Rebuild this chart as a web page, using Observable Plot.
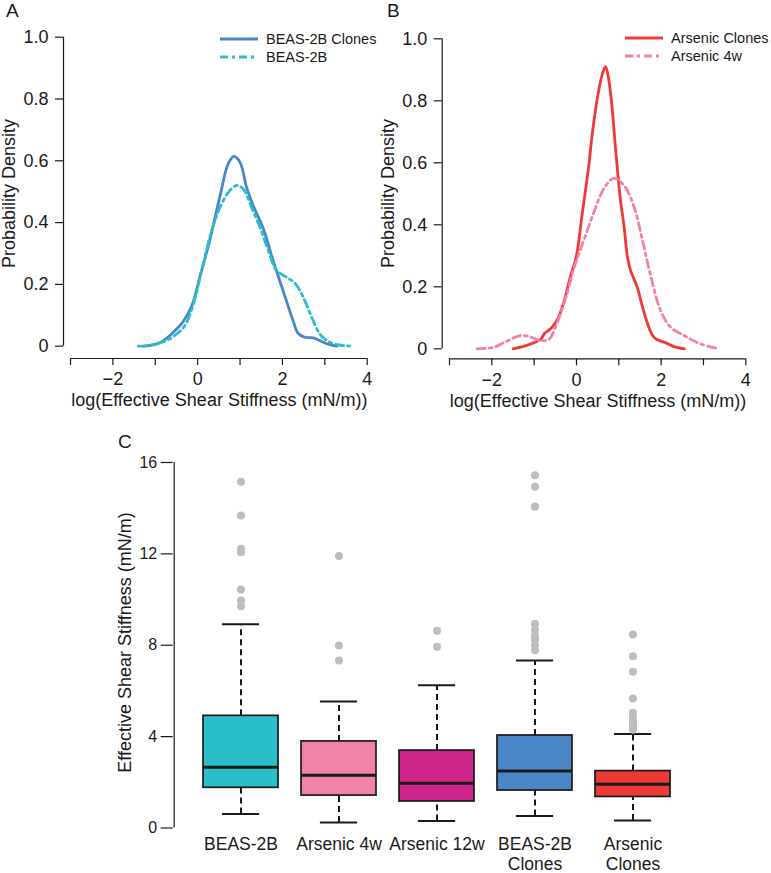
<!DOCTYPE html>
<html>
<head>
<meta charset="utf-8">
<script src="https://cdn.jsdelivr.net/npm/d3@7"></script>
<script src="https://cdn.jsdelivr.net/npm/@observablehq/plot@0.6"></script>
<style>
  html, body { margin: 0; padding: 0; background: #fff; }
  #wrap { position: relative; width: 771px; height: 873px; overflow: hidden; background: #fff; }
  .panel { position: absolute; }
  .panel svg { overflow: visible; }
  #overlay { position: absolute; left: 0; top: 0; pointer-events: none; }
</style>
</head>
<body>
<div id="wrap">
  <div id="panelA" class="panel" style="left:0px;top:0px;"></div>
  <div id="panelB" class="panel" style="left:380px;top:0px;"></div>
  <div id="panelC" class="panel" style="left:0px;top:420px;"></div>
</div>
<script>
// ---------------- data ----------------
// density panels (A, B): axis ticks
const xTicks = [-3, -2, -1, 0, 1, 2, 3, 4];
const xTickLabels = ["", "−2", "", "0", "", "2", "", "4"];
const yTicks = [0, 0.2, 0.4, 0.6, 0.8, 1.0];
const yTickLabels = ["0", "0.2", "0.4", "0.6", "0.8", "1.0"];
const xTitle = "log(Effective Shear Stiffness (mN/m))";
const yTitle = "Probability Density";

// Panel A: BEAS-2B Clones (solid)
const beasClonesX = [-1.28, -1.05, -0.89, -0.72, -0.575, -0.45, -0.34, -0.14, 0.054, 0.29, 0.526, 0.72, 0.856, 1.0, 1.155, 1.31, 1.55, 1.78, 2.02, 2.25, 2.37, 2.53, 2.73, 2.96, 3.12, 3.28];
const beasClonesY = [0, 0.004, 0.011, 0.027, 0.045, 0.062, 0.080, 0.130, 0.225, 0.345, 0.485, 0.59, 0.614, 0.595, 0.514, 0.455, 0.38, 0.277, 0.178, 0.083, 0.042, 0.029, 0.027, 0.013, 0.005, 0];
// Panel A: BEAS-2B (dash-dot)
const beasX = [-1.40, -1.15, -0.97, -0.75, -0.575, -0.30, -0.10, 0.094, 0.33, 0.566, 0.76, 0.92, 1.075, 1.27, 1.47, 1.665, 1.86, 2.10, 2.295, 2.49, 2.69, 2.88, 3.05, 3.20, 3.59];
const beasY = [0, 0.002, 0.008, 0.018, 0.031, 0.067, 0.137, 0.245, 0.374, 0.461, 0.504, 0.52, 0.509, 0.45, 0.385, 0.31, 0.245, 0.223, 0.204, 0.159, 0.094, 0.04, 0.018, 0.008, 0];
// Panel B: Arsenic Clones (solid)
const arsClonesX = [-1.50, -1.25, -1.0, -0.85, -0.75, -0.6, -0.45, -0.3, -0.15, 0.0, 0.12, 0.29, 0.37, 0.52, 0.62, 0.69, 0.76, 0.84, 0.92, 1.04, 1.12, 1.2, 1.277, 1.435, 1.55, 1.67, 1.8, 1.9, 2.1, 2.3, 2.55];
const arsClonesY = [0, 0.008, 0.02, 0.03, 0.05, 0.066, 0.095, 0.15, 0.23, 0.30, 0.42, 0.59, 0.69, 0.83, 0.89, 0.91, 0.87, 0.78, 0.65, 0.478, 0.40, 0.30, 0.253, 0.199, 0.14, 0.085, 0.042, 0.03, 0.02, 0.007, 0];
// Panel B: Arsenic 4w (dash-dot)
const ars4wX = [-2.35, -1.955, -1.64, -1.32, -1.09, -0.85, -0.655, -0.456, -0.22, -0.06, 0.17, 0.41, 0.645, 0.88, 1.12, 1.355, 1.55, 1.75, 1.985, 2.22, 2.54, 2.93, 3.365];
const ars4wY = [0, 0.005, 0.025, 0.043, 0.038, 0.027, 0.03, 0.084, 0.18, 0.26, 0.349, 0.44, 0.516, 0.55, 0.527, 0.46, 0.355, 0.237, 0.124, 0.07, 0.043, 0.016, 0];

// Panel C: box plots
const groups = ["BEAS-2B", "Arsenic 4w", "Arsenic 12w", "BEAS-2B Clones", "Arsenic Clones"];
const groupLabels = ["BEAS-2B", "Arsenic 4w", "Arsenic 12w", "BEAS-2B\nClones", "Arsenic\nClones"];
const whiskerLow = [0.61, 0.24, 0.31, 0.52, 0.33];
const q1 = [1.76, 1.42, 1.16, 1.64, 1.36];
const median = [2.66, 2.31, 1.96, 2.49, 1.92];
const q3 = [4.91, 3.79, 3.39, 4.05, 2.49];
const whiskerHigh = [8.92, 5.54, 6.25, 7.33, 4.11];
const outliers = [
  [15.16, 13.68, 12.22, 12.07, 10.44, 9.96, 9.71],
  [11.91, 7.99, 7.33],
  [8.63, 7.93],
  [15.44, 14.94, 14.07, 8.93, 8.67, 8.42, 8.25, 8.0, 7.78],
  [8.47, 7.52, 6.84, 5.67, 5.04, 4.85, 4.72, 4.6, 4.5, 4.4, 4.3]
];
const boxColors = ["#29BEC8", "#F283A6", "#CD2489", "#4A86C5", "#EE3A37"];
const yTicksC = [0, 4, 8, 12, 16];
const yTickLabelsC = ["0", "4", "8", "12", "16"];
const yTitleC = "Effective Shear Stiffness (mN/m)";

// ---------------- styling ----------------
const FONT = '"Liberation Sans", Arial, Helvetica, sans-serif';
const INK = "#1a1a1a";
const DASHDOT = "8,4,3,4";

const seriesA = [
  {name: "BEAS-2B Clones", x: beasClonesX, y: beasClonesY, color: "#4A86C5", dash: null},
  {name: "BEAS-2B", x: beasX, y: beasY, color: "#29BEC8", dash: DASHDOT}
];
const seriesB = [
  {name: "Arsenic Clones", x: arsClonesX, y: arsClonesY, color: "#EE3A37", dash: null},
  {name: "Arsenic 4w", x: ars4wX, y: ars4wY, color: "#F283A6", dash: DASHDOT}
];

function densityPanel(cfg) {
  const {series, width, height, marginLeft, marginRight, marginTop, marginBottom,
         insetLeft, insetBottom, titleDx, yTitleDx, yTitleDy} = cfg;
  const rows = series.flatMap(s => s.x.map((x, i) => ({name: s.name, x, y: s.y[i]})));
  return Plot.plot({
    width, height, marginLeft, marginRight, marginTop, marginBottom,
    style: {fontFamily: FONT, fontSize: "18px", color: INK, background: "transparent"},
    x: {domain: [xTicks[0], xTicks[xTicks.length - 1]], insetLeft},
    y: {domain: [yTicks[0], yTicks[yTicks.length - 1]], insetBottom},
    marks: [
      Plot.ruleX([xTicks[0]], {y1: yTicks[0], y2: yTicks[yTicks.length - 1], dx: -insetLeft, stroke: INK, strokeWidth: 1.2}),
      Plot.ruleY([yTicks[0]], {x1: xTicks[0], x2: xTicks[xTicks.length - 1], dy: insetBottom, stroke: INK, strokeWidth: 1.2}),
      Plot.axisX({ticks: xTicks, tickFormat: d => xTickLabels[xTicks.indexOf(d)], tickSize: 7, tickPadding: 7, label: null, fontSize: 18, strokeWidth: 1.2}),
      Plot.axisY({ticks: yTicks, tickFormat: d => yTickLabels[yTicks.indexOf(d)], tickSize: 8, tickPadding: 7, label: null, fontSize: 18, strokeWidth: 1.2}),
      Plot.text([xTitle], {text: d => d, frameAnchor: "bottom", textAnchor: "middle", lineAnchor: "middle", dy: 42, dx: titleDx, fontSize: 18, fill: INK}),
      Plot.text([yTitle], {text: d => d, frameAnchor: "left", textAnchor: "middle", lineAnchor: "middle", rotate: -90, dx: yTitleDx, dy: yTitleDy, fontSize: 18, fill: INK}),
      ...series.map(s => Plot.line(rows.filter(r => r.name === s.name), {
        x: "x", y: "y", stroke: s.color, strokeWidth: 2.8,
        strokeDasharray: s.dash || undefined, curve: "catmull-rom"
      }))
    ]
  });
}

document.getElementById("panelA").appendChild(densityPanel({
  series: seriesA, width: 385, height: 410,
  marginLeft: 63, marginRight: 18.3, marginTop: 36.7, marginBottom: 52,
  insetLeft: 7, insetBottom: 12.3, titleDx: 4, yTitleDx: -54, yTitleDy: -4.3
}));
document.getElementById("panelB").appendChild(densityPanel({
  series: seriesB, width: 391, height: 410,
  marginLeft: 61.7, marginRight: 25.7, marginTop: 38.3, marginBottom: 51.7,
  insetLeft: 7.3, insetBottom: 10, titleDx: 4, yTitleDx: -53.7, yTitleDy: -5.3
}));

// ---------------- panel C ----------------
const boxes = groups.map((g, i) => ({group: g, lo: whiskerLow[i], q1: q1[i], median: median[i], q3: q3[i], hi: whiskerHigh[i], color: boxColors[i]}));
const outRows = groups.flatMap((g, i) => outliers[i].map(v => ({group: g, v})));

const cW = 771, cH = 453, cML = 172.7, cMR = 87.7, cMT = 42, cMB = 45.5, cInsetL = 17.5, pad = 0.233;
const step = (cW - cML - cMR - cInsetL) / groups.length;
const bandW = step * (1 - pad);

const plotC = Plot.plot({
  width: cW, height: cH, marginLeft: cML, marginRight: cMR, marginTop: cMT, marginBottom: cMB,
  style: {fontFamily: FONT, fontSize: "16px", color: INK, background: "transparent"},
  x: {domain: groups, insetLeft: cInsetL, paddingInner: pad, paddingOuter: pad / 2},
  y: {domain: [yTicksC[0], yTicksC[yTicksC.length - 1]]},
  color: {type: "identity"},
  marks: [
    Plot.ruleX([groups[0]], {y1: yTicksC[0], y2: yTicksC[yTicksC.length - 1], dx: -(cInsetL + step / 2), stroke: INK, strokeWidth: 1.2}),
    Plot.axisY({ticks: yTicksC, tickFormat: d => yTickLabelsC[yTicksC.indexOf(d)], tickSize: 12, tickPadding: 4, label: null, fontSize: 16, strokeWidth: 1.2}),
    Plot.axisX({tickSize: 0, tickPadding: 8, fontSize: 17.5, lineHeight: 1.15, tickFormat: d => groupLabels[groups.indexOf(d)], label: null}),
    Plot.text([yTitleC], {text: d => d, frameAnchor: "left", textAnchor: "middle", lineAnchor: "middle", rotate: -90, dx: -48, dy: -2.75, fontSize: 18, fill: INK}),
    Plot.ruleX(boxes, {x: "group", y1: "q3", y2: "hi", stroke: INK, strokeWidth: 2, strokeDasharray: "6,4"}),
    Plot.ruleX(boxes, {x: "group", y1: "lo", y2: "q1", stroke: INK, strokeWidth: 2, strokeDasharray: "6,4"}),
    Plot.barY(boxes, {x: "group", y1: "q1", y2: "q3", fill: "color", stroke: INK, strokeWidth: 1.7}),
    Plot.tickY(boxes, {x: "group", y: "median", stroke: INK, strokeWidth: 3}),
    Plot.tickY(boxes, {x: "group", y: "hi", insetLeft: bandW / 4, insetRight: bandW / 4, stroke: INK, strokeWidth: 2}),
    Plot.tickY(boxes, {x: "group", y: "lo", insetLeft: bandW / 4, insetRight: bandW / 4, stroke: INK, strokeWidth: 2}),
    Plot.dot(outRows, {x: "group", y: "v", r: 4, fill: "#bdbdbd", stroke: "none"})
  ]
});
document.getElementById("panelC").appendChild(plotC);

// ---------------- overlay: panel letters & legends ----------------
const overlay = d3.select("#wrap").append("svg")
  .attr("id", "overlay").attr("width", 771).attr("height", 873)
  .style("font-family", FONT);

const panelLetters = [
  {t: "A", x: 6, y: 17},
  {t: "B", x: 387, y: 17},
  {t: "C", x: 118, y: 448}
];
overlay.selectAll("text.pl").data(panelLetters).join("text")
  .attr("class", "pl").attr("x", d => d.x).attr("y", d => d.y)
  .attr("font-size", 19).attr("fill", INK).text(d => d.t);

const legends = [
  {series: seriesA, x0: 220, y0: 39},
  {series: seriesB, x0: 625, y0: 38}
];
legends.forEach(L => {
  L.series.forEach((s, i) => {
    const y = L.y0 + i * 18;
    overlay.append("line").attr("x1", L.x0).attr("x2", L.x0 + 38).attr("y1", y).attr("y2", y)
      .attr("stroke", s.color).attr("stroke-width", 2.8)
      .attr("stroke-dasharray", s.dash || null);
    overlay.append("text").attr("x", L.x0 + 46).attr("y", y + 5.2)
      .attr("font-size", 14.5).attr("fill", INK).text(s.name);
  });
});
</script>
</body>
</html>
